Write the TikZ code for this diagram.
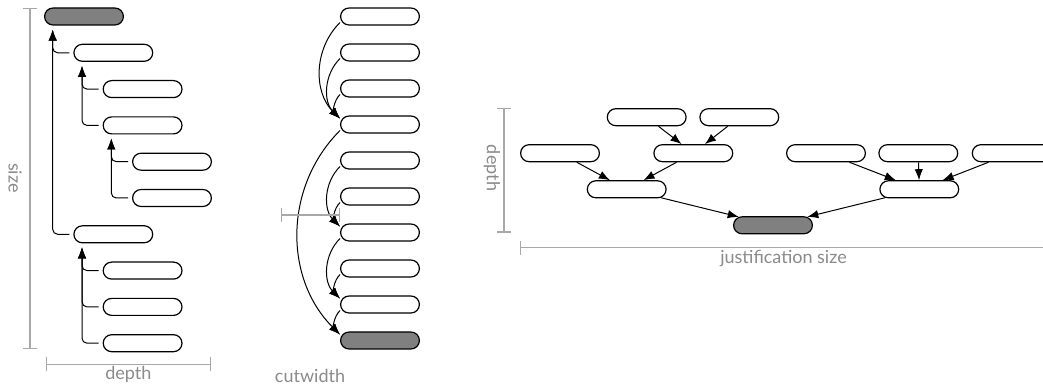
\documentclass[tikz,border=0pt]{standalone}
\usepackage{fontspec}
\setmainfont{Lato}
\usepackage{tikz}
\usetikzlibrary{arrows.meta,calc,shapes.misc}
\definecolor{RootGrey}{HTML}{808080}
\definecolor{MeasureGrey}{HTML}{A8A8A8}
\definecolor{LabelGrey}{HTML}{8A8A8A}

\begin{document}
\begin{tikzpicture}[x=0.5pt,y=0.5pt,
  box/.style={draw,rounded rectangle,inner sep=0pt,minimum width=39.4pt,minimum height=8.5pt,line width=0.6pt},
  rootbox/.style={box,fill=RootGrey},
  link/.style={-{Latex[length=5.5pt,width=4.2pt]},line width=0.5pt},
  hook/.style={link,rounded corners=2.5pt,shorten <=2pt,shorten >=2pt},
  measure/.style={{Bar[width=7pt]}-{Bar[width=7pt]},MeasureGrey,line width=0.6pt},
  lbl/.style={text=LabelGrey,font=\fontsize{9}{10}\selectfont,inner sep=0pt}]
  \clip (0,0) rectangle (1043,-389);
  % size / depth of a proof tree
  \node[rootbox] (s0) at (84,-16.5) {};
  \node[box] (s1) at (113.3,-52.8) {};
  \node[box] (s2) at (142.6,-89.1) {};
  \node[box] (s3) at (142.6,-125.4) {};
  \node[box] (s4) at (172,-161.7) {};
  \node[box] (s5) at (172,-198) {};
  \node[box] (s6) at (113.3,-234.3) {};
  \node[box] (s7) at (142.6,-270.6) {};
  \node[box] (s8) at (142.6,-306.9) {};
  \node[box] (s9) at (142.6,-343.2) {};
  \coordinate (s0in) at ($(s0.west |- s0.south)+(8.7,0)$);
  \coordinate (s1in) at ($(s1.west |- s1.south)+(8.7,0)$);
  \coordinate (s3in) at ($(s3.west |- s3.south)+(8.7,0)$);
  \coordinate (s6in) at ($(s6.west |- s6.south)+(8.7,0)$);
  \draw[hook] (s1.west) -| (s0in);
  \draw[hook] (s6.west) -| (s0in);
  \draw[hook] (s2.west) -| (s1in);
  \draw[hook] (s3.west) -| (s1in);
  \draw[hook] (s4.west) -| (s3in);
  \draw[hook] (s5.west) -| (s3in);
  \draw[hook] (s7.west) -| (s6in);
  \draw[hook] (s8.west) -| (s6in);
  \draw[hook] (s9.west) -| (s6in);
  \draw[measure] (30,-8) -- (30,-349);
  \node[lbl,rotate=-90] (sizelbl) at (15,-178) {size};
  \draw[measure] (45.7,-364.3) -- (210.7,-364.3);
  \node[lbl,anchor=base] (depthlbl) at (128.3,-379.5) {depth};
  % cutwidth
  \node[box] (c0) at (380,-16.5) {};
  \node[box] (c1) at (380,-52.5) {};
  \node[box] (c2) at (380,-88.5) {};
  \node[box] (c3) at (380,-124.5) {};
  \node[box] (c4) at (380,-160.5) {};
  \node[box] (c5) at (380,-196.5) {};
  \node[box] (c6) at (380,-232.5) {};
  \node[box] (c7) at (380,-268.5) {};
  \node[box] (c8) at (380,-304.5) {};
  \node[rootbox] (c9) at (380,-340.5) {};
  \draw[link] ([yshift=-3pt]c0.west) to[out=225,in=135] ([yshift=3pt]c3.west);
  \draw[link] ([yshift=-3pt]c1.west) to[out=225,in=135] ([yshift=3pt]c3.west);
  \draw[link] ([yshift=-3pt]c2.west) to[out=225,in=135] ([yshift=3pt]c3.west);
  \draw[link] ([yshift=-3pt]c3.west) to[out=225,in=135] ([yshift=3pt]c9.west);
  \draw[link] ([yshift=-3pt]c4.west) to[out=225,in=135] ([yshift=3pt]c6.west);
  \draw[link] ([yshift=-3pt]c5.west) to[out=225,in=135] ([yshift=3pt]c6.west);
  \draw[link] ([yshift=-3pt]c6.west) to[out=225,in=135] ([yshift=3pt]c8.west);
  \draw[link] ([yshift=-3pt]c7.west) to[out=225,in=135] ([yshift=3pt]c8.west);
  \draw[link] ([yshift=-3pt]c8.west) to[out=225,in=135] ([yshift=3pt]c9.west);
  \draw[measure] (280.7,-215) -- (340,-215);
  \node[lbl,anchor=base] (cutlbl) at (310,-382) {cutwidth};
  % justification
  \node[box] (ja) at (646.7,-117.2) {};
  \node[box] (jb) at (739.3,-117.2) {};
  \node[box] (jc) at (560,-153.2) {};
  \node[box] (jd) at (693.3,-153.2) {};
  \node[box] (je) at (826,-153.2) {};
  \node[box] (jf) at (918.3,-153.2) {};
  \node[box] (jg) at (1011.7,-153.2) {};
  \node[box] (jh) at (626.7,-189.3) {};
  \node[box] (ji) at (919.3,-189.3) {};
  \node[rootbox] (jr) at (773,-225.3) {};
  \draw[link] (ja) -- (jd);
  \draw[link] (jb) -- (jd);
  \draw[link] (jc) -- (jh);
  \draw[link] (jd) -- (jh);
  \draw[link] (je) -- (ji);
  \draw[link] (jf) -- (ji);
  \draw[link] (jg) -- (ji);
  \draw[link] (jh) -- (jr);
  \draw[link] (ji) -- (jr);
  \draw[measure] (504,-108.3) -- (504,-232.7);
  \node[lbl,rotate=-90] (jdepthlbl) at (492,-168) {depth};
  \draw[measure] (520,-247.7) -- (1047,-247.7);
  \node[lbl,anchor=base] (jsizelbl) at (783.5,-263.4) {justification size};
\end{tikzpicture}
\end{document}
